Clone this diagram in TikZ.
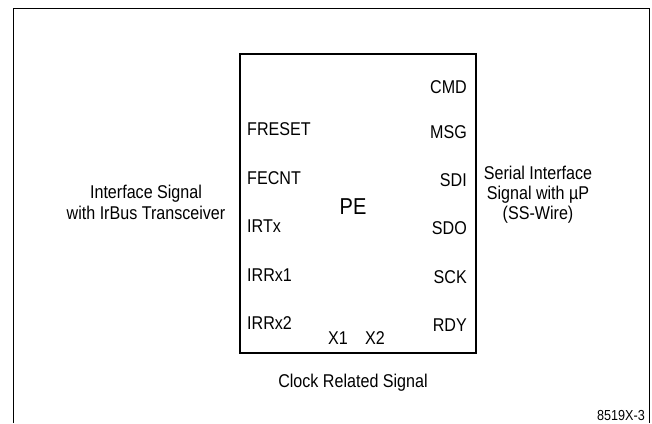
\documentclass[tikz,border=0pt]{standalone}
\usepackage{fontspec}
\setmainfont{Liberation Sans}[FakeStretch=0.87]
\usepackage{tikz}
\usetikzlibrary{positioning}

\begin{document}
\begin{tikzpicture}[
    x=1pt, y=-1pt,
    every node/.style={font=\fontsize{18.5}{21}\selectfont, inner sep=0pt},
    sig/.style={text height=13.3pt, text depth=0pt},
    frameline/.style={line width=1pt},
]
    \useasboundingbox (0,0) rectangle (652,423);

    % open outer frame
    \draw[frameline] (13,423) -- (13,8) -- (649,8) -- (649,423);

    % PE block
    \node[draw, line width=2pt, minimum width=236pt, minimum height=299pt] (pe) at (358,203.5) {};
    \node[font=\fontsize{23}{26}\selectfont, text height=16.7pt, text depth=0pt] (pelabel) at (353,206.5) {PE};

    % left side signals
    \node[sig, anchor=west] (freset) at (247,129) {FRESET};
    \node[sig, anchor=west] (fecnt) at (247,177.5) {FECNT};
    \node[sig, anchor=west] (irtx) at (247,226) {IRTx};
    \node[sig, anchor=west] (irrx1) at (247,274.5) {IRRx1};
    \node[sig, anchor=west] (irrx2) at (247,323) {IRRx2};

    % right side signals
    \node[sig, anchor=east] (cmd) at (467,86.5) {CMD};
    \node[sig, anchor=east] (msg) at (467,131.5) {MSG};
    \node[sig, anchor=east] (sdi) at (467,180) {SDI};
    \node[sig, anchor=east] (sdo) at (467,228) {SDO};
    \node[sig, anchor=east] (sck) at (467,276.5) {SCK};
    \node[sig, anchor=east] (rdy) at (467,325) {RDY};

    % clock pins
    \node[sig] (xone) at (338,338) {X1};
    \node[sig] (xtwo) at (375,338) {X2};

    % group labels
    \node[align=center] (irbus) at (146,202.5) {Interface Signal\\with IrBus Transceiver};
    \node[align=center, font=\fontsize{18.5}{20}\selectfont] (serial) at (538,195) {Serial Interface\\Signal with µP\\(SS-Wire)};
    \node[sig] (clock) at (353,381) {Clock Related Signal};

    \node[anchor=east, font=\fontsize{14.5}{16}\selectfont, text height=10.2pt, text depth=0pt] (figno) at (645,415) {8519X-3};
\end{tikzpicture}
\end{document}
